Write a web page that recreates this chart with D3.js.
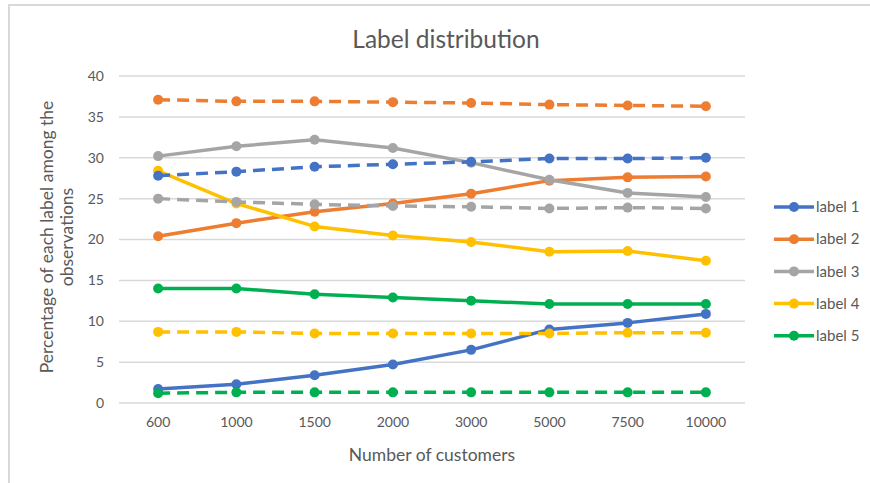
<!DOCTYPE html>
<html>
<head>
<meta charset="utf-8">
<script src="https://cdn.jsdelivr.net/npm/d3@7"></script>
<style>
  html, body { margin: 0; padding: 0; background: #fff; }
  svg { display: block; font-family: Lato, "Open Sans", sans-serif; }
</style>
</head>
<body>
<svg id="chart" width="870" height="483"></svg>
<script>
// Number of customers (x categories)
const customers = ["600", "1000", "1500", "2000", "3000", "5000", "7500", "10000"];

// Percentage of each label among the observations (solid series)
const label1 = [1.7, 2.3, 3.4, 4.7, 6.5, 9.0, 9.8, 10.9];
const label2 = [20.4, 22.0, 23.4, 24.4, 25.6, 27.2, 27.6, 27.7];
const label3 = [30.2, 31.4, 32.2, 31.2, 29.4, 27.3, 25.7, 25.2];
const label4 = [28.4, 24.4, 21.6, 20.5, 19.7, 18.5, 18.6, 17.4];
const label5 = [14.0, 14.0, 13.3, 12.9, 12.5, 12.1, 12.1, 12.1];

// Reference series (dashed)
const label1Ref = [27.8, 28.3, 28.9, 29.2, 29.5, 29.9, 29.9, 30.0];
const label2Ref = [37.1, 36.9, 36.9, 36.8, 36.7, 36.5, 36.4, 36.3];
const label3Ref = [25.0, 24.6, 24.3, 24.1, 24.0, 23.8, 23.9, 23.8];
const label4Ref = [8.7, 8.7, 8.5, 8.5, 8.5, 8.5, 8.6, 8.6];
const label5Ref = [1.2, 1.3, 1.3, 1.3, 1.3, 1.3, 1.3, 1.3];

const seriesNames = ["label 1", "label 2", "label 3", "label 4", "label 5"];
const seriesColors = ["#4472C4", "#ED7D31", "#A5A5A5", "#FFC000", "#00B050"];
const yTicks = [0, 5, 10, 15, 20, 25, 30, 35, 40];

const solidSeries = [label1, label2, label3, label4, label5];
const dashedSeries = [label1Ref, label2Ref, label3Ref, label4Ref, label5Ref];

const svg = d3.select("#chart");
const W = 870, H = 483;
const plot = { left: 119, right: 745, top: 76, bottom: 403 };

// Chart frame
svg.append("path")
  .attr("d", `M9,${H} L9,5 L${W},5`)
  .attr("fill", "none")
  .attr("stroke", "#d9d9d9")
  .attr("stroke-width", 2);

const x = d3.scaleBand()
  .domain(customers)
  .range([plot.left, plot.right]);

const y = d3.scaleLinear()
  .domain([0, 40])
  .range([plot.bottom, plot.top]);

// Horizontal gridlines
svg.append("g")
  .selectAll("line")
  .data(yTicks)
  .join("line")
  .attr("x1", plot.left)
  .attr("x2", plot.right)
  .attr("y1", d => y(d))
  .attr("y2", d => y(d))
  .attr("stroke", "#d9d9d9")
  .attr("stroke-width", 1.5);

// Y axis labels
const yAxis = svg.append("g")
  .attr("transform", `translate(${plot.left - 15},0)`)
  .call(d3.axisLeft(y).tickValues(yTicks).tickSize(0).tickPadding(0));
yAxis.select(".domain").remove();
yAxis.selectAll("text")
  .attr("fill", "#595959")
  .style("font-size", "14px")
  .style("font-family", "Lato, sans-serif");

// X axis labels
const xAxis = svg.append("g")
  .attr("transform", `translate(0,${plot.bottom + 14})`)
  .call(d3.axisBottom(x).tickSize(0).tickPadding(0));
xAxis.select(".domain").remove();
xAxis.selectAll("text")
  .attr("fill", "#595959")
  .style("font-size", "14px")
  .style("font-family", "Lato, sans-serif");

// Titles
svg.append("text")
  .attr("x", 446)
  .attr("y", 48)
  .attr("text-anchor", "middle")
  .attr("fill", "#595959")
  .style("font-size", "24.5px")
  .text("Label distribution");

svg.append("text")
  .attr("x", 432)
  .attr("y", 461)
  .attr("text-anchor", "middle")
  .attr("fill", "#595959")
  .style("font-size", "17.5px")
  .text("Number of customers");

const yTitle = svg.append("text")
  .attr("transform", "translate(53,237) rotate(-90)")
  .attr("text-anchor", "middle")
  .attr("fill", "#595959")
  .style("font-size", "17.5px");
yTitle.append("tspan").attr("x", 0).attr("dy", 0).text("Percentage of each label among the");
yTitle.append("tspan").attr("x", 0).attr("dy", 20).text("observations");

const cx = d => x(d) + x.bandwidth() / 2;
const line = d3.line()
  .x((d, i) => cx(customers[i]))
  .y(d => y(d));

function drawSeries(values, color, dashed) {
  const g = svg.append("g");
  g.append("path")
    .datum(values)
    .attr("d", line)
    .attr("fill", "none")
    .attr("stroke", color)
    .attr("stroke-width", 3.5)
    .attr("stroke-linejoin", "round")
    .attr("stroke-dasharray", dashed ? "12,7" : null);
  g.selectAll("circle")
    .data(values)
    .join("circle")
    .attr("cx", (d, i) => cx(customers[i]))
    .attr("cy", d => y(d))
    .attr("r", 5)
    .attr("fill", color);
}

solidSeries.forEach((s, i) => drawSeries(s, seriesColors[i], false));
dashedSeries.forEach((s, i) => drawSeries(s, seriesColors[i], true));

// Legend
const legend = svg.append("g")
  .selectAll("g")
  .data(seriesNames)
  .join("g")
  .attr("transform", (d, i) => `translate(774,${207 + i * 32.2})`);
legend.append("line")
  .attr("x1", 0).attr("x2", 40)
  .attr("stroke", (d, i) => seriesColors[i])
  .attr("stroke-width", 3.5);
legend.append("circle")
  .attr("cx", 20).attr("r", 5)
  .attr("fill", (d, i) => seriesColors[i]);
legend.append("text")
  .attr("x", 42)
  .attr("dy", "0.35em")
  .attr("fill", "#595959")
  .style("font-size", "15px")
  .text(d => d);
</script>
</body>
</html>
